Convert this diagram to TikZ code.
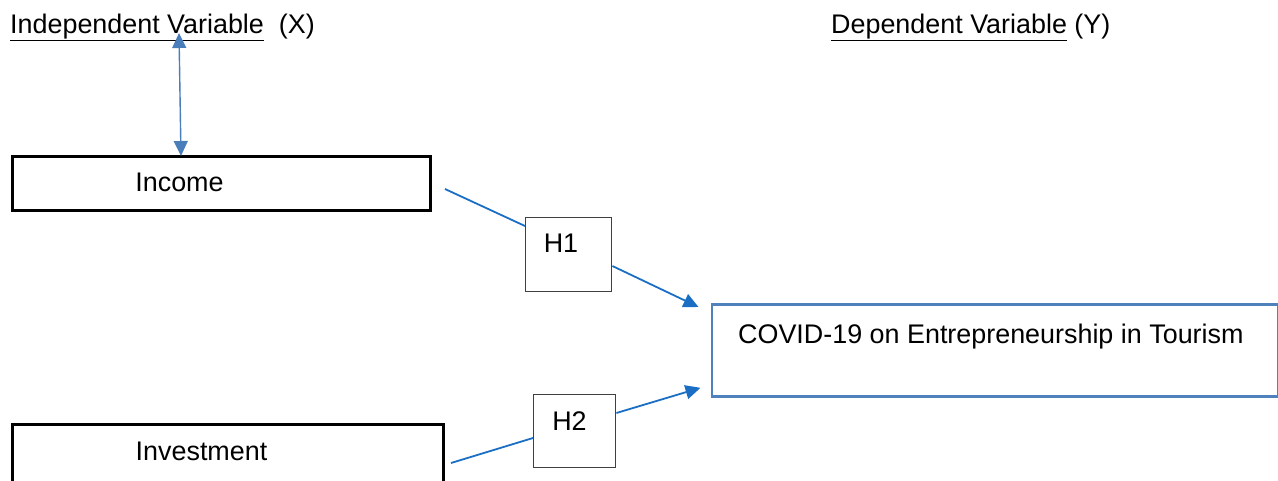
\documentclass[tikz,border=0pt]{standalone}
\usepackage{fontspec}
\setmainfont{Liberation Sans}
\usetikzlibrary{arrows.meta,calc}
\definecolor{conn}{HTML}{1A6FC4}
\definecolor{dbl}{HTML}{4A7EBB}
\definecolor{ybox}{HTML}{4F81BD}
\definecolor{hgray}{HTML}{404040}
\tikzset{
  xbox/.style={draw=black,line width=2.6pt,rectangle,inner sep=0pt,anchor=north west},
  hbox/.style={draw=hgray,line width=1.4pt,rectangle,inner sep=0pt,anchor=north west},
  covbox/.style={draw=ybox,line width=2.8pt,rectangle,inner sep=0pt,anchor=north west},
  txt/.style={inner sep=0pt,anchor=base,font=\fontsize{26.9}{30}\selectfont},
  conline/.style={draw=conn,line width=1.8pt},
  tipped/.style={conline,-{Triangle[length=15pt,width=14pt]}},
}
\begin{document}
\begin{tikzpicture}[x=1pt,y=-1pt]
\useasboundingbox (0,0) rectangle (1278,480);
% headings
\node[txt,anchor=base west] (indep) at (10,33) {\underline{Independent Variable}\ \ (X)};
\node[txt,anchor=base west] (dep) at (831,33) {\underline{Dependent Variable} (Y)};
% boxes
\node[xbox,minimum width=418pt,minimum height=54pt] (income) at (11,155) {};
\node[txt] (incometxt) at (179.5,191) {Income};
\node[xbox,minimum width=431pt,minimum height=80pt] (invest) at (11,423) {};
\node[txt] (investtxt) at (201.5,460) {Investment};
\node[hbox,minimum width=86pt,minimum height=74pt] (h1) at (525,217) {};
\node[txt] (h1txt) at (561,252) {H1};
\node[hbox,minimum width=82pt,minimum height=73pt] (h2) at (533,394) {};
\node[txt] (h2txt) at (569.5,430) {H2};
\node[covbox,minimum width=566pt,minimum height=92pt] (covid) at (710.5,303) {};
\node[txt,anchor=base west] (covidtxt) at (738,343) {COVID-19 on Entrepreneurship in Tourism};
% free ends
\coordinate (c1) at (445,189);
\coordinate (c2) at (451,463);
\coordinate (dtop) at (179,33);
% connectors
\draw[conline] (c1) -- ($(h1.north west)+(0,9)$);
\draw[tipped] ($(h1.north east)+(0,49)$) -- ($(covid.north west)+(-12,4)$);
\draw[conline] (c2) -- ($(h2.north west)+(0,44)$);
\draw[tipped] ($(h2.north east)+(0,19)$) -- ($(covid.south west)+(-10,-10)$);
\draw[draw=dbl,line width=1.4pt,{Triangle[length=15pt,width=14pt]}-{Triangle[length=15pt,width=14pt]}] (dtop) -- ($(income.north west)+(170,1)$);
\end{tikzpicture}
\end{document}
